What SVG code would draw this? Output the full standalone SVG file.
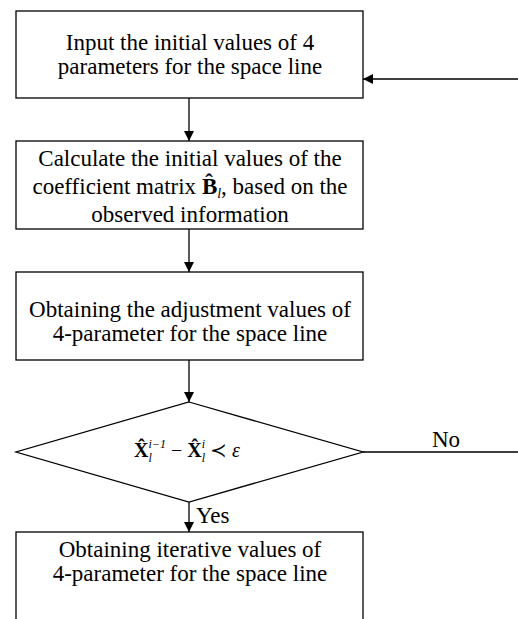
<svg xmlns="http://www.w3.org/2000/svg" width="518" height="619" viewBox="0 0 518 619">
<style>
.box{fill:#fff;stroke:#000;stroke-width:1.3}
.t{font-family:"Liberation Serif","Times New Roman",serif;font-size:23px;fill:#000;text-anchor:middle}
.m{font-family:"Liberation Serif","Times New Roman","DejaVu Serif",serif;font-size:20px;fill:#000;text-anchor:middle}
.s{font-size:12px;font-style:italic}
.lbl{font-family:"Liberation Serif","Times New Roman",serif;font-size:23px;fill:#000}
.c{fill:none;stroke:#000;stroke-width:1.3}
</style>
<defs>
<marker id="ah" markerUnits="userSpaceOnUse" markerWidth="10" markerHeight="11" refX="11" refY="5.5" orient="auto" viewBox="0 0 11 11">
<path d="M0,0 L11,5.5 L0,11 z" fill="#000"/>
</marker>
</defs>
<rect width="518" height="619" fill="#fff"/>
<g id="connectors">
<path class="c" d="M189,98 V141" marker-end="url(#ah)"/>
<path class="c" d="M189,229 V272" marker-end="url(#ah)"/>
<path class="c" d="M189,360 V402" marker-end="url(#ah)"/>
<path class="c" d="M189,502 V532" marker-end="url(#ah)"/>
<path class="c" d="M363,452 H530 V79 H363" marker-end="url(#ah)"/>
<text class="lbl" x="432" y="447">No</text>
<text class="lbl" x="196" y="523">Yes</text>
</g>
<g id="node-input">
<rect class="box" x="16" y="11" width="347" height="87"/>
<text class="t" x="190" y="50">Input the initial values of 4</text>
<text class="t" x="190" y="74">parameters for the space line</text>
</g>
<g id="node-calculate">
<rect class="box" x="16" y="141" width="347" height="88"/>
<text class="t" x="190" y="166">Calculate the initial values of the</text>
<text class="t" x="190" y="194">coefficient matrix <tspan font-weight="bold">B̂</tspan><tspan font-style="italic" font-size="14" dy="4">l</tspan><tspan dy="-4">, based on the</tspan></text>
<text class="t" x="190" y="222">observed information</text>
</g>
<g id="node-adjust">
<rect class="box" x="16" y="272" width="347" height="88"/>
<text class="t" x="190" y="317">Obtaining the adjustment values of</text>
<text class="t" x="190" y="341">4-parameter for the space line</text>
</g>
<g id="node-decision">
<polygon class="box" points="189,402 363,452 189,502 16,452"/>
<text class="m" x="187" y="457"><tspan font-weight="bold">X̂</tspan><tspan class="s" dy="-9">i−1</tspan><tspan class="s" dx="-17.4" dy="14">l</tspan><tspan dx="14.1" dy="-5"> − </tspan><tspan font-weight="bold">X̂</tspan><tspan class="s" dy="-9">i</tspan><tspan class="s" dx="-3.3" dy="14">l</tspan><tspan dy="-5"> ≺ </tspan><tspan font-style="italic">ε</tspan></text>
</g>
<g id="node-iterative">
<rect class="box" x="16" y="532" width="347" height="100"/>
<text class="t" x="190" y="557">Obtaining iterative values of</text>
<text class="t" x="190" y="581">4-parameter for the space line</text>
</g>
</svg>
